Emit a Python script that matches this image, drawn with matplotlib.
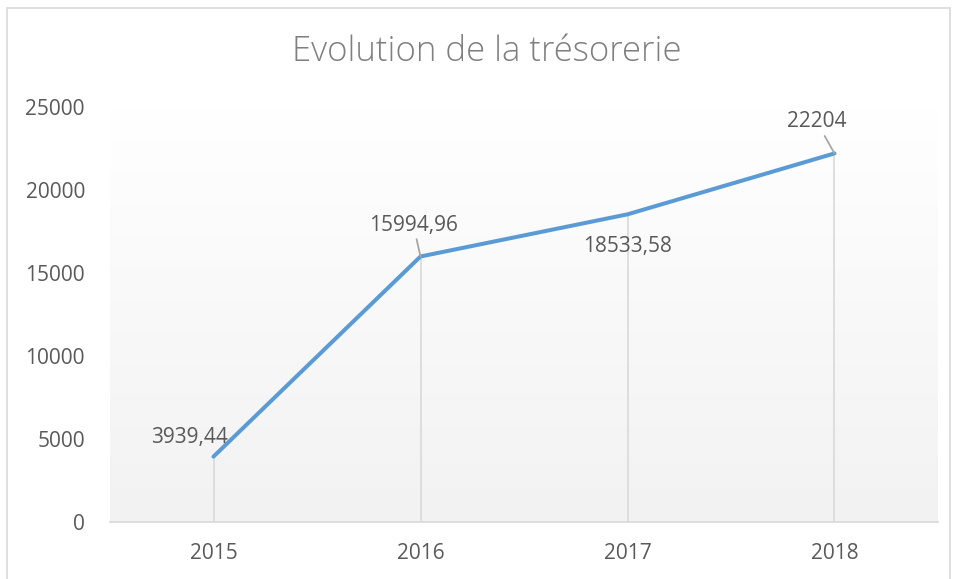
import numpy as np
import matplotlib.pyplot as plt
from matplotlib.colors import LinearSegmentedColormap
from matplotlib.patches import Rectangle

# data
years = ["2015", "2016", "2017", "2018"]
tresorerie = [3939.44, 15994.96, 18533.58, 22204]
labels = ["3939,44", "15994,96", "18533,58", "22204"]

line_color = "#5B9BD5"
text_color = "#595959"
grid_color = "#d9d9d9"

plt.rcParams['font.family'] = ['Open Sans', 'DejaVu Sans']

fig = plt.figure(figsize=(9.57, 5.79), dpi=100)
ax = fig.add_axes([110 / 957, 1 - 522 / 579, 828 / 957, 415 / 579])

# chart border
fig.patches.append(Rectangle((7 / 957, -0.05), 943 / 957, 1.05 - 8 / 579,
                             transform=fig.transFigure, fill=False,
                             edgecolor="#d9d9d9", linewidth=1.2))

x = np.arange(len(years))
ax.set_xlim(-0.5, len(years) - 0.5)
ax.set_ylim(0, 25000)

# gradient background of the plot area (white on top, light grey below)
grad = np.linspace(0, 1, 256).reshape(-1, 1)
ax.imshow(grad, extent=(-0.5, len(years) - 0.5, 0, 25000), aspect="auto",
          cmap=LinearSegmentedColormap.from_list("bg", ["#f2f2f2", "#ffffff"]),
          origin="lower", zorder=0)

# drop lines
ax.vlines(x, 0, tresorerie, color=grid_color, linewidth=1.2, zorder=1)
ax.plot(x, tresorerie, color=line_color, linewidth=2.9,
        solid_capstyle="round", zorder=3)

# data labels
fs = 15
ax.annotate(labels[0], (x[0], tresorerie[0]), xytext=(-17, 14),
            textcoords="offset points", ha="center", va="center",
            fontsize=fs, color=text_color, zorder=4)
ax.annotate(labels[1], (x[1], tresorerie[1]), xytext=(-5, 22),
            textcoords="offset points", ha="center", va="center",
            fontsize=fs, color=text_color, zorder=4,
            arrowprops=dict(arrowstyle="-", color="#a6a6a6", lw=1.3,
                            shrinkA=0, shrinkB=0))
ax.annotate(labels[2], (x[2], tresorerie[2]), xytext=(0, -23),
            textcoords="offset points", ha="center", va="center",
            fontsize=fs, color=text_color, zorder=4)
ax.annotate(labels[3], (x[3], tresorerie[3]), xytext=(-13, 23),
            textcoords="offset points", ha="center", va="center",
            fontsize=fs, color=text_color, zorder=4,
            arrowprops=dict(arrowstyle="-", color="#a6a6a6", lw=1.3,
                            shrinkA=1, shrinkB=0))

ax.set_xticks(x)
ax.set_xticklabels(years)
ax.set_yticks(np.arange(0, 25001, 5000))
ax.tick_params(axis="both", length=0, labelsize=fs, colors=text_color)
ax.tick_params(axis="x", pad=15)
ax.tick_params(axis="y", pad=18)
for side in ["top", "right", "left"]:
    ax.spines[side].set_visible(False)
ax.spines["bottom"].set_color(grid_color)
ax.spines["bottom"].set_linewidth(1.2)

fig.text(487 / 957, 1 - 52 / 579, "Evolution de la trésorerie",
         ha="center", va="center", fontsize=25, color="#7f7f7f",
         fontweight="light")

fig.savefig("out.png", dpi=100)
